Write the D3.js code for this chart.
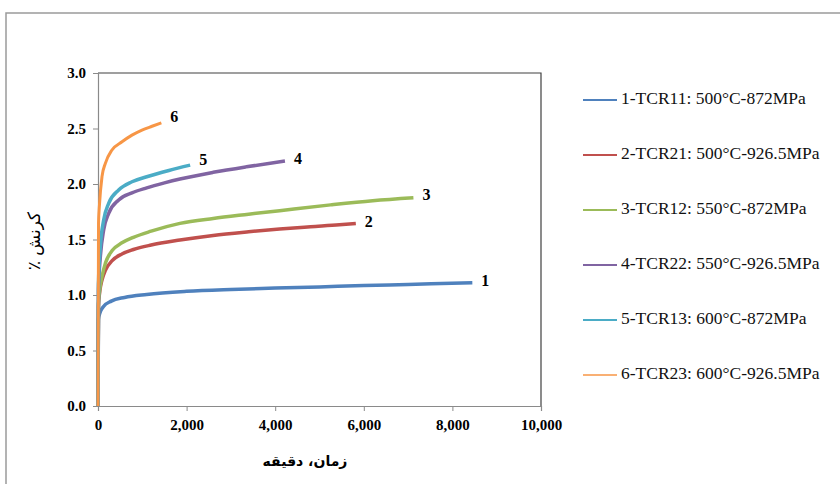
<!DOCTYPE html>
<html>
<head>
<meta charset="utf-8">
<script src="https://cdn.jsdelivr.net/npm/d3@7"></script>
<style>
  html, body { margin: 0; padding: 0; background: #fff; }
  svg { display: block; }
</style>
</head>
<body>
<svg id="chart" width="840" height="484"></svg>
<script>
// ---- Data ----
const seriesNames = [
  "1-TCR11: 500°C-872MPa",
  "2-TCR21: 500°C-926.5MPa",
  "3-TCR12: 550°C-872MPa",
  "4-TCR22: 550°C-926.5MPa",
  "5-TCR13: 600°C-872MPa",
  "6-TCR23: 600°C-926.5MPa"
];
const endLabels = ["1", "2", "3", "4", "5", "6"];
const colors = ["#4F81BD", "#C0504D", "#9BBB59", "#8064A2", "#4BACC6", "#F79646"];

const time1   = [0, 10, 45, 120, 300, 600, 1100, 2000, 3000, 4000, 5000, 6000, 7000, 8450];
const strain1 = [0, 0.78, 0.84, 0.895, 0.945, 0.978, 1.005, 1.033, 1.05, 1.062, 1.073, 1.085, 1.095, 1.11];

const time2   = [0, 10, 40, 90, 170, 320, 540, 800, 1200, 1850, 2600, 3400, 4100, 4800, 5450, 5820];
const strain2 = [0, 0.9, 1.03, 1.135, 1.225, 1.31, 1.37, 1.41, 1.45, 1.495, 1.537, 1.57, 1.595, 1.615, 1.632, 1.645];

const time3   = [0, 10, 40, 90, 170, 320, 540, 800, 1200, 1850, 2600, 3400, 4100, 5250, 6200, 7120];
const strain3 = [0, 0.92, 1.05, 1.165, 1.29, 1.40, 1.47, 1.52, 1.575, 1.645, 1.69, 1.728, 1.76, 1.812, 1.85, 1.877];

const time4   = [0, 10, 53, 128, 241, 467, 767, 1100, 1500, 1850, 2600, 3350, 4220];
const strain4 = [0, 1.05, 1.345, 1.586, 1.736, 1.856, 1.92, 1.965, 2.01, 2.045, 2.105, 2.155, 2.207];

const time5   = [0, 10, 53, 128, 241, 467, 767, 1100, 1600, 2080];
const strain5 = [0, 1.1, 1.435, 1.676, 1.826, 1.946, 2.02, 2.065, 2.122, 2.17];

const time6   = [0, 12, 30, 90, 166, 316, 542, 767, 993, 1220, 1430];
const strain6 = [0, 1.65, 1.795, 2.066, 2.186, 2.306, 2.38, 2.44, 2.486, 2.52, 2.55];

const xTicks = [0, 2000, 4000, 6000, 8000, 10000];
const yTicks = [0, 0.5, 1.0, 1.5, 2.0, 2.5, 3.0];
const xTitle = "زمان، دقيقه";
const yTitle = "کرنش ٪";

const allTimes = [time1, time2, time3, time4, time5, time6];
const allStrains = [strain1, strain2, strain3, strain4, strain5, strain6];
const series = seriesNames.map((name, i) => ({
  name, label: endLabels[i], color: colors[i],
  points: allTimes[i].map((t, j) => [t, allStrains[i][j]])
}));

// ---- Layout ----
const svg = d3.select("#chart");
const plot = { left: 98, right: 541, top: 73, bottom: 406 };
const x = d3.scaleLinear().domain([0, 10000]).range([plot.left, plot.right]);
const y = d3.scaleLinear().domain([0, 3]).range([plot.bottom, plot.top]);

// outer frame
svg.append("rect")
  .attr("x", 6).attr("y", 13).attr("width", 900).attr("height", 500)
  .attr("fill", "none").attr("stroke", "#9a9a9a").attr("stroke-width", 1.5);

// plot border top / right (dark)
svg.append("path")
  .attr("d", `M${plot.left},${plot.top}H${plot.right}V${plot.bottom}`)
  .attr("fill", "none").attr("stroke", "#404040").attr("stroke-width", 1.2);

const serifFont = "'Liberation Serif', 'Times New Roman', 'DejaVu Serif', serif";

// axes
const yAxis = svg.append("g")
  .attr("transform", `translate(${plot.left},0)`)
  .call(d3.axisLeft(y).tickValues(yTicks).tickFormat(d3.format(".1f")).tickSize(5).tickPadding(7));
const xAxis = svg.append("g")
  .attr("transform", `translate(0,${plot.bottom})`)
  .call(d3.axisBottom(x).tickValues(xTicks).tickFormat(d3.format(",")).tickSize(5).tickPadding(8));

[yAxis, xAxis].forEach(g => {
  g.select(".domain").attr("stroke", "#8a8a8a").attr("stroke-width", 1.2);
  g.selectAll(".tick line").attr("stroke", "#8a8a8a");
  g.selectAll(".tick text")
    .attr("fill", "#000")
    .style("font-family", serifFont)
    .style("font-weight", "bold")
    .style("font-size", "15px");
});

// lines
const line = d3.line().x(d => x(d[0])).y(d => y(d[1])).curve(d3.curveMonotoneX);
svg.append("g").selectAll("path").data(series).join("path")
  .attr("d", d => line(d.points))
  .attr("fill", "none")
  .attr("stroke", d => d.color)
  .attr("stroke-width", (d, i) => i === 5 ? 3 : 3.5)
  .attr("stroke-linejoin", "round");

// end labels
const labelDy = [0, 0, -1, -1, -4, -5];
svg.append("g").selectAll("text").data(series).join("text")
  .attr("x", d => x(d.points[d.points.length - 1][0]) + 9)
  .attr("y", (d, i) => y(d.points[d.points.length - 1][1]) + labelDy[i])
  .attr("dominant-baseline", "middle")
  .style("font-family", serifFont)
  .style("font-weight", "bold")
  .style("font-size", "16px")
  .text(d => d.label);

// axis titles
svg.append("text")
  .attr("x", 305).attr("y", 466)
  .attr("text-anchor", "middle")
  .attr("direction", "rtl")
  .style("font-family", "'DejaVu Sans', sans-serif")
  .style("font-weight", "bold")
  .style("font-size", "14px")
  .text(xTitle);

svg.append("text")
  .attr("transform", "translate(40,241) rotate(-90)")
  .attr("text-anchor", "middle")
  .attr("direction", "rtl")
  .style("direction", "rtl")
  .style("unicode-bidi", "embed")
  .style("font-family", "'DejaVu Sans', sans-serif")
  .style("font-size", "17px")
  .text(yTitle);

// legend
const legend = svg.append("g").selectAll("g").data(series).join("g")
  .attr("transform", (d, i) => `translate(583,${100 + i * 55})`);
legend.append("line")
  .attr("x1", 0).attr("x2", 34).attr("y1", 0).attr("y2", 0)
  .attr("stroke", d => d.color)
  .attr("stroke-width", (d, i) => i === 5 ? 1.5 : 2);
legend.append("text")
  .attr("x", 38).attr("y", 0)
  .attr("dominant-baseline", "middle")
  .style("font-family", serifFont)
  .style("font-size", "17.5px")
  .attr("fill", "#111")
  .text(d => d.name);
</script>
</body>
</html>
